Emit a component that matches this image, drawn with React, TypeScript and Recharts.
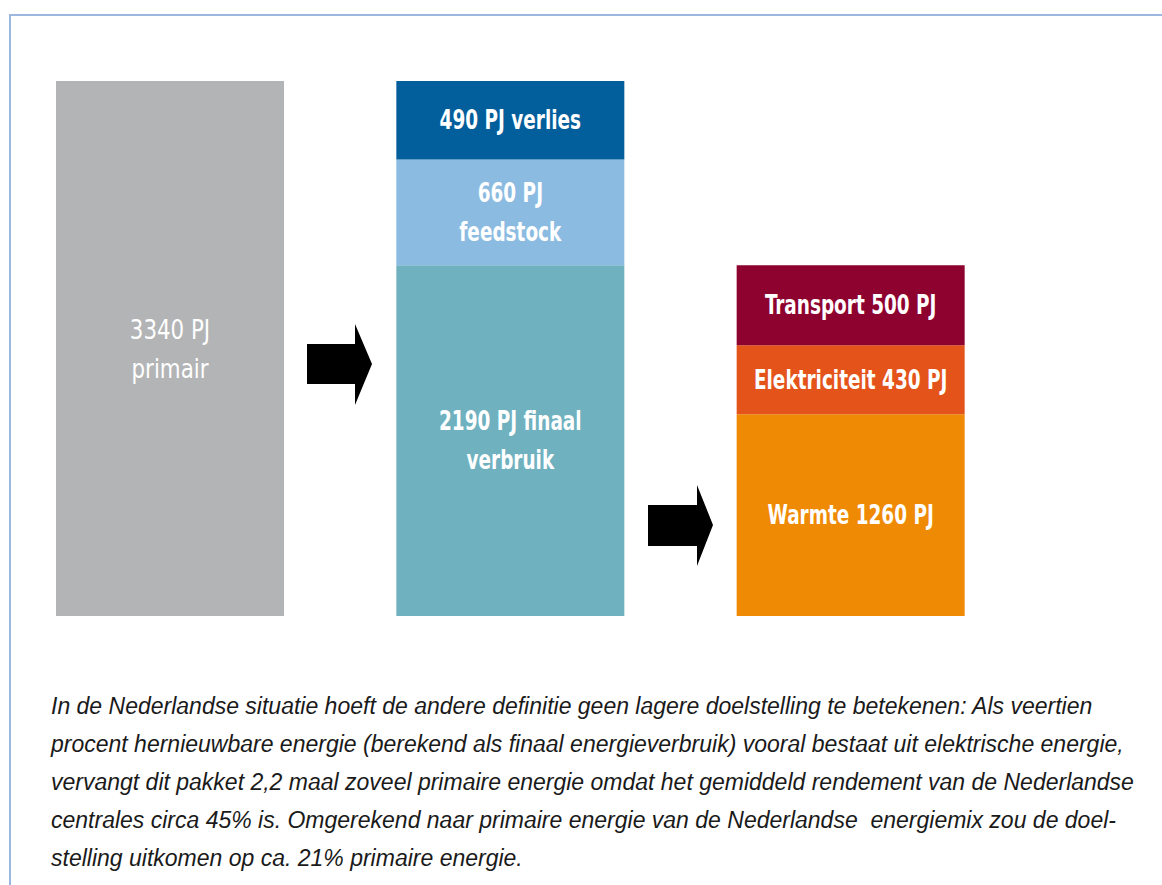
import React from "react";
import { BarChart, Bar, XAxis, YAxis, LabelList, Customized } from "recharts";

const categories = ["primair", "totaal", "finaal"];
const primair = [3340, null, null];
const verbruik = [null, 2190, null];
const feedstock = [null, 660, null];
const verlies = [null, 490, null];
const warmte = [null, null, 1260];
const elektriciteit = [null, null, 430];
const transport = [null, null, 500];

const caption = [
  "In de Nederlandse situatie hoeft de andere definitie geen lagere doelstelling te betekenen: Als veertien",
  "procent hernieuwbare energie (berekend als finaal energieverbruik) vooral bestaat uit elektrische energie,",
  "vervangt dit pakket 2,2 maal zoveel primaire energie omdat het gemiddeld rendement van de Nederlandse",
  "centrales circa 45% is. Omgerekend naar primaire energie van de Nederlandse  energiemix zou de doel-",
  "stelling uitkomen op ca. 21% primaire energie.",
];

const data = categories.map((c, i) => ({
  name: c,
  primair: primair[i],
  verbruik: verbruik[i],
  feedstock: feedstock[i],
  verlies: verlies[i],
  warmte: warmte[i],
  elektriciteit: elektriciteit[i],
  transport: transport[i],
}));

const FONT = "'DejaVu Sans Condensed', 'DejaVu Sans', sans-serif";

// label text per series, {v} is replaced by the value
const series = [
  { key: "primair", color: "#b3b4b6", lines: ["{v} PJ", "primair"], weight: 400 },
  { key: "verbruik", color: "#6fb1bf", lines: ["{v} PJ finaal", "verbruik"], weight: 700 },
  { key: "feedstock", color: "#8bbbe1", lines: ["{v} PJ", "feedstock"], weight: 700 },
  { key: "verlies", color: "#035e9c", lines: ["{v} PJ verlies"], weight: 700 },
  { key: "warmte", color: "#ef8a04", lines: ["Warmte {v} PJ"], weight: 700 },
  { key: "elektriciteit", color: "#e4541a", lines: ["Elektriciteit {v} PJ"], weight: 700 },
  { key: "transport", color: "#8e022f", lines: ["Transport {v} PJ"], weight: 700 },
];

const makeLabel = (lines: string[], weight: number) => (props: any) => {
  const { x, y, width, height, value } = props;
  if (value == null || !height) return null;
  const cx = Number(x) + Number(width) / 2;
  const cy = Number(y) + Number(height) / 2;
  const lh = 39;
  const start = cy - ((lines.length - 1) * lh) / 2;
  const sx = weight > 500 ? 0.76 : 0.88;
  return (
    <g transform={`translate(${cx},0) scale(${sx},1)`}>
      <text
        x={0}
        y={start}
        fill="#fff"
        textAnchor="middle"
        dominantBaseline="central"
        fontFamily={FONT}
        fontWeight={weight}
        fontSize={27}
      >
        {lines.map((l, i) => (
          <tspan key={i} x={0} y={start + i * lh}>
            {l.replace("{v}", String(value))}
          </tspan>
        ))}
      </text>
    </g>
  );
};

const Arrows = () => (
  <g fill="#000">
    <polygon points="307,344 355,344 355,324 372,364 355,405 355,384 307,384" />
    <polygon points="648,505 697,505 697,485 713,525 697,566 697,546 648,546" />
  </g>
);

export default function App() {
  return (
    <div style={{ position: "absolute", left: 0, top: 0, width: 1162, height: 885, background: "#fff" }}>
      <div
        style={{
          position: "absolute",
          left: 9,
          top: 14,
          width: 1153,
          height: 871,
          borderTop: "2px solid #9db8e0",
          borderLeft: "2px solid #9db8e0",
          boxSizing: "border-box",
        }}
      />
      <div style={{ position: "absolute", left: 0, top: 0 }}>
        <BarChart
          width={1162}
          height={640}
          data={data}
          margin={{ top: 81, right: 141, bottom: 24, left: 0 }}
          barSize={228}
        >
          <XAxis dataKey="name" hide />
          <YAxis hide domain={[0, 3340]} />
          {series.map((s) => (
            <Bar key={s.key} dataKey={s.key} stackId="a" fill={s.color} isAnimationActive={false}>
              <LabelList dataKey={s.key} content={makeLabel(s.lines, s.weight)} />
            </Bar>
          ))}
          <Customized component={Arrows} />
        </BarChart>
      </div>
      <div
        style={{
          position: "absolute",
          left: 51,
          top: 687,
          fontFamily: "'Liberation Sans', Arial, sans-serif",
          fontStyle: "italic",
          fontSize: 23,
          lineHeight: "38px",
          color: "#1a1a1a",
          whiteSpace: "pre",
        }}
      >
        {caption.map((l, i) => (
          <div key={i}>{l}</div>
        ))}
      </div>
    </div>
  );
}
